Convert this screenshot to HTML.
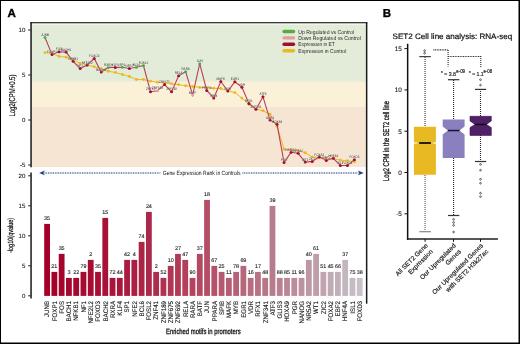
<!DOCTYPE html><html><head><meta charset="utf-8"><style>html,body{margin:0;padding:0;background:#fff;}svg{display:block;will-change:transform;}text{font-family:"Liberation Sans", sans-serif;text-rendering:geometricPrecision;}</style></head><body>
<svg width="520" height="344" viewBox="0 0 520 344">
<rect x="0" y="0" width="520" height="344" fill="#fff"/>
<rect x="31.0" y="22.7" width="335.2" height="144.3" fill="#f6e5d2"/>
<rect x="31.0" y="22.7" width="335.2" height="84.3" fill="#fbf0d8"/>
<rect x="31.0" y="22.7" width="335.2" height="58.8" fill="#e2ecd8"/>
<rect x="30.3" y="22.15" width="337" height="1.35" fill="#1a1a1a"/>
<rect x="31.8" y="23.5" width="334.1" height="1.4" fill="#f0f8e8"/>
<rect x="30.3" y="22.3" width="1.5" height="145" fill="#1a1a1a"/>
<rect x="365.9" y="22.3" width="1.5" height="281.4" fill="#1a1a1a"/>
<rect x="28.2" y="29.50" width="2.5" height="1" fill="#1a1a1a"/>
<text x="25.30" y="32.20" font-size="6.1" fill="#222" text-anchor="end" stroke="#222" stroke-width="0.12">10</text>
<rect x="28.2" y="74.50" width="2.5" height="1" fill="#1a1a1a"/>
<text x="25.30" y="77.20" font-size="6.1" fill="#222" text-anchor="end" stroke="#222" stroke-width="0.12">5</text>
<rect x="28.2" y="119.50" width="2.5" height="1" fill="#1a1a1a"/>
<text x="25.30" y="122.20" font-size="6.1" fill="#222" text-anchor="end" stroke="#222" stroke-width="0.12">0</text>
<rect x="28.2" y="164.50" width="2.5" height="1" fill="#1a1a1a"/>
<text x="25.30" y="167.20" font-size="6.1" fill="#222" text-anchor="end" stroke="#222" stroke-width="0.12">-5</text>
<text x="14.70" y="116.60" font-size="8.5" fill="#111" textLength="42.0" lengthAdjust="spacingAndGlyphs" transform="rotate(-90 14.70 116.60)" stroke="#111" stroke-width="0.22">Log2(CPM+0.5)</text>
<line x1="284.1" y1="31.50" x2="293.5" y2="31.50" stroke="#5aab3f" stroke-width="3.4" stroke-linecap="round"/>
<text x="298.30" y="33.50" font-size="5.7" fill="#2a2a2a" textLength="55.7" lengthAdjust="spacingAndGlyphs" >Up Regulated vs Control</text>
<line x1="284.1" y1="37.90" x2="293.5" y2="37.90" stroke="#e0a09a" stroke-width="3.4" stroke-linecap="round"/>
<text x="298.30" y="39.90" font-size="5.7" fill="#2a2a2a" textLength="62.5" lengthAdjust="spacingAndGlyphs" >Down Regulated vs Control</text>
<line x1="284.1" y1="44.30" x2="293.5" y2="44.30" stroke="#a50d2e" stroke-width="3.4" stroke-linecap="round"/>
<text x="298.30" y="46.30" font-size="5.7" fill="#2a2a2a" textLength="36.5" lengthAdjust="spacingAndGlyphs" >Expression in ET</text>
<line x1="284.1" y1="50.70" x2="293.5" y2="50.70" stroke="#ebb820" stroke-width="3.4" stroke-linecap="round"/>
<text x="298.30" y="52.70" font-size="5.7" fill="#2a2a2a" textLength="48.0" lengthAdjust="spacingAndGlyphs" >Expression in Control</text>
<polyline points="45.00,52.60 52.03,53.50 59.06,56.40 66.10,57.20 73.13,59.50 80.16,63.50 87.19,65.00 94.22,66.70 101.26,68.80 108.29,71.20 115.32,72.50 122.35,74.50 129.38,76.50 136.42,79.50 143.45,79.50 150.48,81.10 157.51,82.30 164.54,83.10 171.58,83.80 178.61,84.60 185.64,85.80 192.67,86.50 199.70,87.40 206.74,87.70 213.77,88.30 220.80,88.50 227.83,90.80 234.86,92.60 241.90,98.10 248.93,104.50 255.96,109.00 262.99,110.80 270.02,114.30 277.06,126.30 284.09,149.20 291.12,149.50 298.15,150.70 305.18,152.70 312.22,157.10 319.25,157.30 326.28,157.90 333.31,158.50 340.34,160.10 347.38,160.80 354.41,161.70" fill="none" stroke="#ebb820" stroke-width="1"/>
<circle cx="45.00" cy="52.60" r="1.45" fill="#ebb820"/>
<circle cx="52.03" cy="53.50" r="1.45" fill="#ebb820"/>
<circle cx="59.06" cy="56.40" r="1.45" fill="#ebb820"/>
<circle cx="66.10" cy="57.20" r="1.45" fill="#ebb820"/>
<circle cx="73.13" cy="59.50" r="1.45" fill="#ebb820"/>
<circle cx="80.16" cy="63.50" r="1.45" fill="#ebb820"/>
<circle cx="87.19" cy="65.00" r="1.45" fill="#ebb820"/>
<circle cx="94.22" cy="66.70" r="1.45" fill="#ebb820"/>
<circle cx="101.26" cy="68.80" r="1.45" fill="#ebb820"/>
<circle cx="108.29" cy="71.20" r="1.45" fill="#ebb820"/>
<circle cx="115.32" cy="72.50" r="1.45" fill="#ebb820"/>
<circle cx="122.35" cy="74.50" r="1.45" fill="#ebb820"/>
<circle cx="129.38" cy="76.50" r="1.45" fill="#ebb820"/>
<circle cx="136.42" cy="79.50" r="1.45" fill="#ebb820"/>
<circle cx="143.45" cy="79.50" r="1.45" fill="#ebb820"/>
<circle cx="150.48" cy="81.10" r="1.45" fill="#ebb820"/>
<circle cx="157.51" cy="82.30" r="1.45" fill="#ebb820"/>
<circle cx="164.54" cy="83.10" r="1.45" fill="#ebb820"/>
<circle cx="171.58" cy="83.80" r="1.45" fill="#ebb820"/>
<circle cx="178.61" cy="84.60" r="1.45" fill="#ebb820"/>
<circle cx="185.64" cy="85.80" r="1.45" fill="#ebb820"/>
<circle cx="192.67" cy="86.50" r="1.45" fill="#ebb820"/>
<circle cx="199.70" cy="87.40" r="1.45" fill="#ebb820"/>
<circle cx="206.74" cy="87.70" r="1.45" fill="#ebb820"/>
<circle cx="213.77" cy="88.30" r="1.45" fill="#ebb820"/>
<circle cx="220.80" cy="88.50" r="1.45" fill="#ebb820"/>
<circle cx="227.83" cy="90.80" r="1.45" fill="#ebb820"/>
<circle cx="234.86" cy="92.60" r="1.45" fill="#ebb820"/>
<circle cx="241.90" cy="98.10" r="1.45" fill="#ebb820"/>
<circle cx="248.93" cy="104.50" r="1.45" fill="#ebb820"/>
<circle cx="255.96" cy="109.00" r="1.45" fill="#ebb820"/>
<circle cx="262.99" cy="110.80" r="1.45" fill="#ebb820"/>
<circle cx="270.02" cy="114.30" r="1.45" fill="#ebb820"/>
<circle cx="277.06" cy="126.30" r="1.45" fill="#ebb820"/>
<circle cx="284.09" cy="149.20" r="1.45" fill="#ebb820"/>
<circle cx="291.12" cy="149.50" r="1.45" fill="#ebb820"/>
<circle cx="298.15" cy="150.70" r="1.45" fill="#ebb820"/>
<circle cx="305.18" cy="152.70" r="1.45" fill="#ebb820"/>
<circle cx="312.22" cy="157.10" r="1.45" fill="#ebb820"/>
<circle cx="319.25" cy="157.30" r="1.45" fill="#ebb820"/>
<circle cx="326.28" cy="157.90" r="1.45" fill="#ebb820"/>
<circle cx="333.31" cy="158.50" r="1.45" fill="#ebb820"/>
<circle cx="340.34" cy="160.10" r="1.45" fill="#ebb820"/>
<circle cx="347.38" cy="160.80" r="1.45" fill="#ebb820"/>
<circle cx="354.41" cy="161.70" r="1.45" fill="#ebb820"/>
<polyline points="45.00,37.50 52.03,54.60 59.06,51.70 66.10,52.10 73.13,61.30 80.16,68.50 87.19,65.00 94.22,58.50 101.26,72.10 108.29,67.40 115.32,67.40 122.35,67.20 129.38,68.50 136.42,67.20 143.45,65.50 150.48,91.70 157.51,90.80 164.54,84.60 171.58,91.80 178.61,75.80 185.64,71.70 192.67,95.10 199.70,63.70 206.74,90.50 213.77,98.00 220.80,81.50 227.83,91.10 234.86,81.80 241.90,87.20 248.93,103.50 255.96,109.30 262.99,96.80 270.02,120.00 277.06,124.30 284.09,162.50 291.12,152.20 298.15,153.30 305.18,162.10 312.22,161.40 319.25,157.00 326.28,160.40 333.31,158.30 340.34,165.50 347.38,165.50 354.41,159.80" fill="none" stroke="#bc3c5c" stroke-width="1.1"/>
<circle cx="45.00" cy="37.50" r="1.5" fill="#4fab3c"/>
<circle cx="52.03" cy="54.60" r="1.5" fill="#a50d2e"/>
<circle cx="59.06" cy="51.70" r="1.5" fill="#a50d2e"/>
<circle cx="66.10" cy="52.10" r="1.5" fill="#a50d2e"/>
<circle cx="73.13" cy="61.30" r="1.5" fill="#a50d2e"/>
<circle cx="80.16" cy="68.50" r="1.5" fill="#a50d2e"/>
<circle cx="87.19" cy="65.00" r="1.5" fill="#a50d2e"/>
<circle cx="94.22" cy="58.50" r="1.5" fill="#a50d2e"/>
<circle cx="101.26" cy="72.10" r="1.5" fill="#a50d2e"/>
<circle cx="108.29" cy="67.40" r="1.5" fill="#4fab3c"/>
<circle cx="115.32" cy="67.40" r="1.5" fill="#a50d2e"/>
<circle cx="122.35" cy="67.20" r="1.5" fill="#4fab3c"/>
<circle cx="129.38" cy="68.50" r="1.5" fill="#a50d2e"/>
<circle cx="136.42" cy="67.20" r="1.5" fill="#4fab3c"/>
<circle cx="143.45" cy="65.50" r="1.5" fill="#4fab3c"/>
<circle cx="150.48" cy="91.70" r="1.5" fill="#a50d2e"/>
<circle cx="157.51" cy="90.80" r="1.5" fill="#e6a0a2"/>
<circle cx="164.54" cy="84.60" r="1.5" fill="#a50d2e"/>
<circle cx="171.58" cy="91.80" r="1.5" fill="#a50d2e"/>
<circle cx="178.61" cy="75.80" r="1.5" fill="#a50d2e"/>
<circle cx="185.64" cy="71.70" r="1.5" fill="#4fab3c"/>
<circle cx="192.67" cy="95.10" r="1.5" fill="#e6a0a2"/>
<circle cx="199.70" cy="63.70" r="1.5" fill="#4fab3c"/>
<circle cx="206.74" cy="90.50" r="1.5" fill="#a50d2e"/>
<circle cx="213.77" cy="98.00" r="1.5" fill="#a50d2e"/>
<circle cx="220.80" cy="81.50" r="1.5" fill="#a50d2e"/>
<circle cx="227.83" cy="91.10" r="1.5" fill="#a50d2e"/>
<circle cx="234.86" cy="81.80" r="1.5" fill="#a50d2e"/>
<circle cx="241.90" cy="87.20" r="1.5" fill="#a50d2e"/>
<circle cx="248.93" cy="103.50" r="1.5" fill="#a50d2e"/>
<circle cx="255.96" cy="109.30" r="1.5" fill="#a50d2e"/>
<circle cx="262.99" cy="96.80" r="1.5" fill="#a50d2e"/>
<circle cx="270.02" cy="120.00" r="1.5" fill="#a50d2e"/>
<circle cx="277.06" cy="124.30" r="1.5" fill="#a50d2e"/>
<circle cx="284.09" cy="162.50" r="1.5" fill="#a50d2e"/>
<circle cx="291.12" cy="152.20" r="1.5" fill="#a50d2e"/>
<circle cx="298.15" cy="153.30" r="1.5" fill="#a50d2e"/>
<circle cx="305.18" cy="162.10" r="1.5" fill="#a50d2e"/>
<circle cx="312.22" cy="161.40" r="1.5" fill="#a50d2e"/>
<circle cx="319.25" cy="157.00" r="1.5" fill="#a50d2e"/>
<circle cx="326.28" cy="160.40" r="1.5" fill="#a50d2e"/>
<circle cx="333.31" cy="158.30" r="1.5" fill="#a50d2e"/>
<circle cx="340.34" cy="165.50" r="1.5" fill="#a50d2e"/>
<circle cx="347.38" cy="165.50" r="1.5" fill="#a50d2e"/>
<circle cx="354.41" cy="159.80" r="1.5" fill="#a50d2e"/>
<text x="45.00" y="36.00" font-size="3.5" fill="#222" text-anchor="middle" textLength="7.86" lengthAdjust="spacingAndGlyphs" stroke="#fff" stroke-opacity="0.4" stroke-width="0.6" paint-order="stroke">JUNB</text>
<text x="52.03" y="53.10" font-size="3.5" fill="#222" text-anchor="middle" textLength="9.87" lengthAdjust="spacingAndGlyphs" stroke="#fff" stroke-opacity="0.4" stroke-width="0.6" paint-order="stroke">FOXP1</text>
<text x="59.06" y="50.20" font-size="3.5" fill="#222" text-anchor="middle" textLength="6.19" lengthAdjust="spacingAndGlyphs" stroke="#fff" stroke-opacity="0.4" stroke-width="0.6" paint-order="stroke">FOS</text>
<text x="66.10" y="50.60" font-size="3.5" fill="#222" text-anchor="middle" textLength="10.04" lengthAdjust="spacingAndGlyphs" stroke="#fff" stroke-opacity="0.4" stroke-width="0.6" paint-order="stroke">BACH1</text>
<text x="73.13" y="59.80" font-size="3.5" fill="#222" text-anchor="middle" textLength="9.7" lengthAdjust="spacingAndGlyphs" stroke="#fff" stroke-opacity="0.4" stroke-width="0.6" paint-order="stroke">NFKB1</text>
<text x="80.16" y="67.00" font-size="3.5" fill="#222" text-anchor="middle" textLength="5.69" lengthAdjust="spacingAndGlyphs" stroke="#fff" stroke-opacity="0.4" stroke-width="0.6" paint-order="stroke">NF1</text>
<text x="87.19" y="63.50" font-size="3.5" fill="#222" text-anchor="middle" textLength="11.04" lengthAdjust="spacingAndGlyphs" stroke="#fff" stroke-opacity="0.4" stroke-width="0.6" paint-order="stroke">NFE2L2</text>
<text x="94.22" y="57.00" font-size="3.5" fill="#222" text-anchor="middle" textLength="10.2" lengthAdjust="spacingAndGlyphs" stroke="#fff" stroke-opacity="0.4" stroke-width="0.6" paint-order="stroke">FOXO3</text>
<text x="101.26" y="70.60" font-size="3.5" fill="#222" text-anchor="middle" textLength="10.04" lengthAdjust="spacingAndGlyphs" stroke="#fff" stroke-opacity="0.4" stroke-width="0.6" paint-order="stroke">BACH2</text>
<text x="108.29" y="65.90" font-size="3.5" fill="#222" text-anchor="middle" textLength="8.36" lengthAdjust="spacingAndGlyphs" stroke="#fff" stroke-opacity="0.4" stroke-width="0.6" paint-order="stroke">RXRA</text>
<text x="115.32" y="65.90" font-size="3.5" fill="#222" text-anchor="middle" textLength="7.19" lengthAdjust="spacingAndGlyphs" stroke="#fff" stroke-opacity="0.4" stroke-width="0.6" paint-order="stroke">KLF4</text>
<text x="122.35" y="65.70" font-size="3.5" fill="#222" text-anchor="middle" textLength="5.69" lengthAdjust="spacingAndGlyphs" stroke="#fff" stroke-opacity="0.4" stroke-width="0.6" paint-order="stroke">SP1</text>
<text x="129.38" y="67.00" font-size="3.5" fill="#222" text-anchor="middle" textLength="7.69" lengthAdjust="spacingAndGlyphs" stroke="#fff" stroke-opacity="0.4" stroke-width="0.6" paint-order="stroke">NFE2</text>
<text x="136.42" y="65.70" font-size="3.5" fill="#222" text-anchor="middle" textLength="7.53" lengthAdjust="spacingAndGlyphs" stroke="#fff" stroke-opacity="0.4" stroke-width="0.6" paint-order="stroke">BCL6</text>
<text x="143.45" y="64.00" font-size="3.5" fill="#222" text-anchor="middle" textLength="9.54" lengthAdjust="spacingAndGlyphs" stroke="#fff" stroke-opacity="0.4" stroke-width="0.6" paint-order="stroke">FOSL2</text>
<text x="150.48" y="90.20" font-size="3.5" fill="#222" text-anchor="middle" textLength="9.2" lengthAdjust="spacingAndGlyphs" stroke="#fff" stroke-opacity="0.4" stroke-width="0.6" paint-order="stroke">ZNF41</text>
<text x="157.51" y="89.30" font-size="3.5" fill="#222" text-anchor="middle" textLength="10.87" lengthAdjust="spacingAndGlyphs" stroke="#fff" stroke-opacity="0.4" stroke-width="0.6" paint-order="stroke">ZNF189</text>
<text x="164.54" y="83.10" font-size="3.5" fill="#222" text-anchor="middle" textLength="10.87" lengthAdjust="spacingAndGlyphs" stroke="#fff" stroke-opacity="0.4" stroke-width="0.6" paint-order="stroke">ZNF675</text>
<text x="171.58" y="90.30" font-size="3.5" fill="#222" text-anchor="middle" textLength="10.87" lengthAdjust="spacingAndGlyphs" stroke="#fff" stroke-opacity="0.4" stroke-width="0.6" paint-order="stroke">ZNF692</text>
<text x="178.61" y="74.30" font-size="3.5" fill="#222" text-anchor="middle" textLength="7.86" lengthAdjust="spacingAndGlyphs" stroke="#fff" stroke-opacity="0.4" stroke-width="0.6" paint-order="stroke">RELA</text>
<text x="185.64" y="70.20" font-size="3.5" fill="#222" text-anchor="middle" textLength="8.36" lengthAdjust="spacingAndGlyphs" stroke="#fff" stroke-opacity="0.4" stroke-width="0.6" paint-order="stroke">RARA</text>
<text x="192.67" y="93.60" font-size="3.5" fill="#222" text-anchor="middle" textLength="7.47" lengthAdjust="spacingAndGlyphs" stroke="#fff" stroke-opacity="0.4" stroke-width="0.6" paint-order="stroke">BATF</text>
<text x="199.70" y="62.20" font-size="3.5" fill="#222" text-anchor="middle" textLength="5.85" lengthAdjust="spacingAndGlyphs" stroke="#fff" stroke-opacity="0.4" stroke-width="0.6" paint-order="stroke">JUN</text>
<text x="206.74" y="89.00" font-size="3.5" fill="#222" text-anchor="middle" textLength="9.98" lengthAdjust="spacingAndGlyphs" stroke="#fff" stroke-opacity="0.4" stroke-width="0.6" paint-order="stroke">PPARA</text>
<text x="213.77" y="96.50" font-size="3.5" fill="#222" text-anchor="middle" textLength="6.86" lengthAdjust="spacingAndGlyphs" stroke="#fff" stroke-opacity="0.4" stroke-width="0.6" paint-order="stroke">SPIB</text>
<text x="220.80" y="80.00" font-size="3.5" fill="#222" text-anchor="middle" textLength="8.36" lengthAdjust="spacingAndGlyphs" stroke="#fff" stroke-opacity="0.4" stroke-width="0.6" paint-order="stroke">MAFK</text>
<text x="227.83" y="89.60" font-size="3.5" fill="#222" text-anchor="middle" textLength="6.52" lengthAdjust="spacingAndGlyphs" stroke="#fff" stroke-opacity="0.4" stroke-width="0.6" paint-order="stroke">MYB</text>
<text x="234.86" y="80.30" font-size="3.5" fill="#222" text-anchor="middle" textLength="8.2" lengthAdjust="spacingAndGlyphs" stroke="#fff" stroke-opacity="0.4" stroke-width="0.6" paint-order="stroke">EGR1</text>
<text x="241.90" y="85.70" font-size="3.5" fill="#222" text-anchor="middle" textLength="6.36" lengthAdjust="spacingAndGlyphs" stroke="#fff" stroke-opacity="0.4" stroke-width="0.6" paint-order="stroke">VDR</text>
<text x="248.93" y="102.00" font-size="3.5" fill="#222" text-anchor="middle" textLength="7.69" lengthAdjust="spacingAndGlyphs" stroke="#fff" stroke-opacity="0.4" stroke-width="0.6" paint-order="stroke">RFX1</text>
<text x="255.96" y="107.80" font-size="3.5" fill="#222" text-anchor="middle" textLength="10.87" lengthAdjust="spacingAndGlyphs" stroke="#fff" stroke-opacity="0.4" stroke-width="0.6" paint-order="stroke">ZNF341</text>
<text x="262.99" y="95.30" font-size="3.5" fill="#222" text-anchor="middle" textLength="7.14" lengthAdjust="spacingAndGlyphs" stroke="#fff" stroke-opacity="0.4" stroke-width="0.6" paint-order="stroke">ATF3</text>
<text x="270.02" y="118.50" font-size="3.5" fill="#222" text-anchor="middle" textLength="8.53" lengthAdjust="spacingAndGlyphs" stroke="#fff" stroke-opacity="0.4" stroke-width="0.6" paint-order="stroke">GLIS3</text>
<text x="277.06" y="122.80" font-size="3.5" fill="#222" text-anchor="middle" textLength="10.2" lengthAdjust="spacingAndGlyphs" stroke="#fff" stroke-opacity="0.4" stroke-width="0.6" paint-order="stroke">HOXA9</text>
<text x="284.09" y="161.00" font-size="3.5" fill="#222" text-anchor="middle" textLength="6.52" lengthAdjust="spacingAndGlyphs" stroke="#fff" stroke-opacity="0.4" stroke-width="0.6" paint-order="stroke">PGR</text>
<text x="291.12" y="150.70" font-size="3.5" fill="#222" text-anchor="middle" textLength="11.04" lengthAdjust="spacingAndGlyphs" stroke="#fff" stroke-opacity="0.4" stroke-width="0.6" paint-order="stroke">NANOG</text>
<text x="298.15" y="151.80" font-size="3.5" fill="#222" text-anchor="middle" textLength="9.7" lengthAdjust="spacingAndGlyphs" stroke="#fff" stroke-opacity="0.4" stroke-width="0.6" paint-order="stroke">NR5A2</text>
<text x="305.18" y="160.60" font-size="3.5" fill="#222" text-anchor="middle" textLength="6.35" lengthAdjust="spacingAndGlyphs" stroke="#fff" stroke-opacity="0.4" stroke-width="0.6" paint-order="stroke">WT1</text>
<text x="312.22" y="159.90" font-size="3.5" fill="#222" text-anchor="middle" textLength="6.52" lengthAdjust="spacingAndGlyphs" stroke="#fff" stroke-opacity="0.4" stroke-width="0.6" paint-order="stroke">ZIC2</text>
<text x="319.25" y="155.50" font-size="3.5" fill="#222" text-anchor="middle" textLength="9.87" lengthAdjust="spacingAndGlyphs" stroke="#fff" stroke-opacity="0.4" stroke-width="0.6" paint-order="stroke">FOXA2</text>
<text x="326.28" y="158.90" font-size="3.5" fill="#222" text-anchor="middle" textLength="7.53" lengthAdjust="spacingAndGlyphs" stroke="#fff" stroke-opacity="0.4" stroke-width="0.6" paint-order="stroke">EBF2</text>
<text x="333.31" y="156.80" font-size="3.5" fill="#222" text-anchor="middle" textLength="9.87" lengthAdjust="spacingAndGlyphs" stroke="#fff" stroke-opacity="0.4" stroke-width="0.6" paint-order="stroke">HNF4A</text>
<text x="340.34" y="164.00" font-size="3.5" fill="#222" text-anchor="middle" textLength="6.19" lengthAdjust="spacingAndGlyphs" stroke="#fff" stroke-opacity="0.4" stroke-width="0.6" paint-order="stroke">ISL1</text>
<text x="347.38" y="164.00" font-size="3.5" fill="#222" text-anchor="middle" textLength="10.2" lengthAdjust="spacingAndGlyphs" stroke="#fff" stroke-opacity="0.4" stroke-width="0.6" paint-order="stroke">FOXO4</text>
<text x="354.41" y="158.30" font-size="3.5" fill="#222" text-anchor="middle" textLength="10.04" lengthAdjust="spacingAndGlyphs" stroke="#fff" stroke-opacity="0.4" stroke-width="0.6" paint-order="stroke">FOXD3</text>
<line x1="44.6" y1="173.0" x2="160.5" y2="173.0" stroke="#4d6296" stroke-width="1.5" stroke-dasharray="0.9,0.8"/>
<line x1="242.5" y1="173.0" x2="358.5" y2="173.0" stroke="#4d6296" stroke-width="1.5" stroke-dasharray="0.9,0.8"/>
<path d="M39.1,172.9 L44.9,170.6 L43.4,172.9 L44.9,175.3 Z" fill="#1d3c80"/>
<path d="M363.7,172.9 L357.9,170.6 L359.4,172.9 L357.9,175.3 Z" fill="#1d3c80"/>
<text x="162.70" y="175.00" font-size="6.1" fill="#111" textLength="77.8" lengthAdjust="spacingAndGlyphs" >Gene Expression Rank in Controls</text>
<rect x="30.3" y="172.5" width="1.5" height="126" fill="#1a1a1a"/>
<rect x="28.2" y="175.30" width="2.5" height="1" fill="#1a1a1a"/>
<text x="25.30" y="178.00" font-size="6.1" fill="#222" text-anchor="end" stroke="#222" stroke-width="0.12">20</text>
<rect x="28.2" y="205.30" width="2.5" height="1" fill="#1a1a1a"/>
<text x="25.30" y="208.00" font-size="6.1" fill="#222" text-anchor="end" stroke="#222" stroke-width="0.12">15</text>
<rect x="28.2" y="235.30" width="2.5" height="1" fill="#1a1a1a"/>
<text x="25.30" y="238.00" font-size="6.1" fill="#222" text-anchor="end" stroke="#222" stroke-width="0.12">10</text>
<rect x="28.2" y="265.30" width="2.5" height="1" fill="#1a1a1a"/>
<text x="25.30" y="268.00" font-size="6.1" fill="#222" text-anchor="end" stroke="#222" stroke-width="0.12">5</text>
<rect x="28.2" y="295.30" width="2.5" height="1" fill="#1a1a1a"/>
<text x="25.30" y="298.00" font-size="6.1" fill="#222" text-anchor="end" stroke="#222" stroke-width="0.12">0</text>
<text x="13.20" y="253.00" font-size="7.6" fill="#111" textLength="35.2" lengthAdjust="spacingAndGlyphs" transform="rotate(-90 13.20 253.00)" stroke="#111" stroke-width="0.22">-log10(qvalue)</text>
<rect x="44.20" y="223.90" width="5.8" height="72.00" fill="#a50026"/>
<text x="47.10" y="220.00" font-size="5.4" fill="#222" text-anchor="middle" stroke="#222" stroke-width="0.12">35</text>
<text x="49.40" y="301.00" font-size="6.6" fill="#1a1a1a" text-anchor="end" textLength="16.06" lengthAdjust="spacingAndGlyphs" transform="rotate(-90 49.40 301.00)" stroke="#1a1a1a" stroke-width="0.12">JUNB</text>
<rect x="51.47" y="271.90" width="5.8" height="24.00" fill="#a50228"/>
<text x="54.37" y="268.00" font-size="5.4" fill="#222" text-anchor="middle" stroke="#222" stroke-width="0.12">21</text>
<text x="56.67" y="301.00" font-size="6.6" fill="#1a1a1a" text-anchor="end" textLength="20.16" lengthAdjust="spacingAndGlyphs" transform="rotate(-90 56.67 301.00)" stroke="#1a1a1a" stroke-width="0.12">FOXP1</text>
<rect x="58.74" y="253.90" width="5.8" height="42.00" fill="#a6042a"/>
<text x="61.64" y="250.00" font-size="5.4" fill="#222" text-anchor="middle" stroke="#222" stroke-width="0.12">35</text>
<text x="63.94" y="301.00" font-size="6.6" fill="#1a1a1a" text-anchor="end" textLength="12.64" lengthAdjust="spacingAndGlyphs" transform="rotate(-90 63.94 301.00)" stroke="#1a1a1a" stroke-width="0.12">FOS</text>
<rect x="66.01" y="277.90" width="5.8" height="18.00" fill="#a6072d"/>
<text x="68.91" y="274.00" font-size="5.4" fill="#222" text-anchor="middle" stroke="#222" stroke-width="0.12">3</text>
<text x="71.21" y="301.00" font-size="6.6" fill="#1a1a1a" text-anchor="end" textLength="20.51" lengthAdjust="spacingAndGlyphs" transform="rotate(-90 71.21 301.00)" stroke="#1a1a1a" stroke-width="0.12">BACH1</text>
<rect x="73.28" y="277.90" width="5.8" height="18.00" fill="#a6092f"/>
<text x="76.18" y="274.00" font-size="5.4" fill="#222" text-anchor="middle" stroke="#222" stroke-width="0.12">22</text>
<text x="78.48" y="301.00" font-size="6.6" fill="#1a1a1a" text-anchor="end" textLength="19.82" lengthAdjust="spacingAndGlyphs" transform="rotate(-90 78.48 301.00)" stroke="#1a1a1a" stroke-width="0.12">NFKB1</text>
<rect x="80.55" y="271.90" width="5.8" height="24.00" fill="#a60b31"/>
<text x="83.45" y="268.00" font-size="5.4" fill="#222" text-anchor="middle" stroke="#222" stroke-width="0.12">79</text>
<text x="85.75" y="301.00" font-size="6.6" fill="#1a1a1a" text-anchor="end" textLength="11.62" lengthAdjust="spacingAndGlyphs" transform="rotate(-90 85.75 301.00)" stroke="#1a1a1a" stroke-width="0.12">NF1</text>
<rect x="87.82" y="259.90" width="5.8" height="36.00" fill="#a70d33"/>
<text x="90.72" y="256.00" font-size="5.4" fill="#222" text-anchor="middle" stroke="#222" stroke-width="0.12">2</text>
<text x="93.02" y="301.00" font-size="6.6" fill="#1a1a1a" text-anchor="end" textLength="22.56" lengthAdjust="spacingAndGlyphs" transform="rotate(-90 93.02 301.00)" stroke="#1a1a1a" stroke-width="0.12">NFE2L2</text>
<rect x="95.09" y="271.90" width="5.8" height="24.00" fill="#a70f35"/>
<text x="97.99" y="268.00" font-size="5.4" fill="#222" text-anchor="middle" stroke="#222" stroke-width="0.12">35</text>
<text x="100.29" y="301.00" font-size="6.6" fill="#1a1a1a" text-anchor="end" textLength="20.85" lengthAdjust="spacingAndGlyphs" transform="rotate(-90 100.29 301.00)" stroke="#1a1a1a" stroke-width="0.12">FOXO3</text>
<rect x="102.36" y="217.90" width="5.8" height="78.00" fill="#a71238"/>
<text x="105.26" y="214.00" font-size="5.4" fill="#222" text-anchor="middle" stroke="#222" stroke-width="0.12">15</text>
<text x="107.56" y="301.00" font-size="6.6" fill="#1a1a1a" text-anchor="end" textLength="20.51" lengthAdjust="spacingAndGlyphs" transform="rotate(-90 107.56 301.00)" stroke="#1a1a1a" stroke-width="0.12">BACH2</text>
<rect x="109.63" y="277.90" width="5.8" height="18.00" fill="#a8143a"/>
<text x="112.53" y="274.00" font-size="5.4" fill="#222" text-anchor="middle" stroke="#222" stroke-width="0.12">72</text>
<text x="114.83" y="301.00" font-size="6.6" fill="#1a1a1a" text-anchor="end" textLength="17.09" lengthAdjust="spacingAndGlyphs" transform="rotate(-90 114.83 301.00)" stroke="#1a1a1a" stroke-width="0.12">RXRA</text>
<rect x="116.90" y="277.90" width="5.8" height="18.00" fill="#a8163c"/>
<text x="119.80" y="274.00" font-size="5.4" fill="#222" text-anchor="middle" stroke="#222" stroke-width="0.12">44</text>
<text x="122.10" y="301.00" font-size="6.6" fill="#1a1a1a" text-anchor="end" textLength="14.7" lengthAdjust="spacingAndGlyphs" transform="rotate(-90 122.10 301.00)" stroke="#1a1a1a" stroke-width="0.12">KLF4</text>
<rect x="124.17" y="259.90" width="5.8" height="36.00" fill="#a91b3f"/>
<text x="127.07" y="256.00" font-size="5.4" fill="#222" text-anchor="middle" stroke="#222" stroke-width="0.12">42</text>
<text x="129.37" y="301.00" font-size="6.6" fill="#1a1a1a" text-anchor="end" textLength="11.62" lengthAdjust="spacingAndGlyphs" transform="rotate(-90 129.37 301.00)" stroke="#1a1a1a" stroke-width="0.12">SP1</text>
<rect x="131.44" y="259.90" width="5.8" height="36.00" fill="#aa1f43"/>
<text x="134.34" y="256.00" font-size="5.4" fill="#222" text-anchor="middle" stroke="#222" stroke-width="0.12">4</text>
<text x="136.64" y="301.00" font-size="6.6" fill="#1a1a1a" text-anchor="end" textLength="15.72" lengthAdjust="spacingAndGlyphs" transform="rotate(-90 136.64 301.00)" stroke="#1a1a1a" stroke-width="0.12">NFE2</text>
<rect x="138.71" y="241.90" width="5.8" height="54.00" fill="#ab2446"/>
<text x="141.61" y="238.00" font-size="5.4" fill="#222" text-anchor="middle" stroke="#222" stroke-width="0.12">74</text>
<text x="143.91" y="301.00" font-size="6.6" fill="#1a1a1a" text-anchor="end" textLength="15.38" lengthAdjust="spacingAndGlyphs" transform="rotate(-90 143.91 301.00)" stroke="#1a1a1a" stroke-width="0.12">BCL6</text>
<rect x="145.98" y="211.90" width="5.8" height="84.00" fill="#ac284a"/>
<text x="148.88" y="208.00" font-size="5.4" fill="#222" text-anchor="middle" stroke="#222" stroke-width="0.12">24</text>
<text x="151.18" y="301.00" font-size="6.6" fill="#1a1a1a" text-anchor="end" textLength="19.48" lengthAdjust="spacingAndGlyphs" transform="rotate(-90 151.18 301.00)" stroke="#1a1a1a" stroke-width="0.12">FOSL2</text>
<rect x="153.25" y="271.90" width="5.8" height="24.00" fill="#ad2d4d"/>
<text x="156.15" y="268.00" font-size="5.4" fill="#222" text-anchor="middle" stroke="#222" stroke-width="0.12">2</text>
<text x="158.45" y="301.00" font-size="6.6" fill="#1a1a1a" text-anchor="end" textLength="18.79" lengthAdjust="spacingAndGlyphs" transform="rotate(-90 158.45 301.00)" stroke="#1a1a1a" stroke-width="0.12">ZNF41</text>
<rect x="160.52" y="277.90" width="5.8" height="18.00" fill="#af3151"/>
<text x="163.42" y="274.00" font-size="5.4" fill="#222" text-anchor="middle" stroke="#222" stroke-width="0.12">52</text>
<text x="165.72" y="301.00" font-size="6.6" fill="#1a1a1a" text-anchor="end" textLength="22.21" lengthAdjust="spacingAndGlyphs" transform="rotate(-90 165.72 301.00)" stroke="#1a1a1a" stroke-width="0.12">ZNF189</text>
<rect x="167.79" y="265.90" width="5.8" height="30.00" fill="#b03654"/>
<text x="170.69" y="262.00" font-size="5.4" fill="#222" text-anchor="middle" stroke="#222" stroke-width="0.12">10</text>
<text x="172.99" y="301.00" font-size="6.6" fill="#1a1a1a" text-anchor="end" textLength="22.21" lengthAdjust="spacingAndGlyphs" transform="rotate(-90 172.99 301.00)" stroke="#1a1a1a" stroke-width="0.12">ZNF675</text>
<rect x="175.06" y="253.90" width="5.8" height="42.00" fill="#b13a58"/>
<text x="177.96" y="250.00" font-size="5.4" fill="#222" text-anchor="middle" stroke="#222" stroke-width="0.12">27</text>
<text x="180.26" y="301.00" font-size="6.6" fill="#1a1a1a" text-anchor="end" textLength="22.21" lengthAdjust="spacingAndGlyphs" transform="rotate(-90 180.26 301.00)" stroke="#1a1a1a" stroke-width="0.12">ZNF692</text>
<rect x="182.33" y="259.90" width="5.8" height="36.00" fill="#b23f5b"/>
<text x="185.23" y="256.00" font-size="5.4" fill="#222" text-anchor="middle" stroke="#222" stroke-width="0.12">47</text>
<text x="187.53" y="301.00" font-size="6.6" fill="#1a1a1a" text-anchor="end" textLength="16.07" lengthAdjust="spacingAndGlyphs" transform="rotate(-90 187.53 301.00)" stroke="#1a1a1a" stroke-width="0.12">RELA</text>
<rect x="189.60" y="277.90" width="5.8" height="18.00" fill="#b3435f"/>
<text x="192.50" y="274.00" font-size="5.4" fill="#222" text-anchor="middle" stroke="#222" stroke-width="0.12">90</text>
<text x="194.80" y="301.00" font-size="6.6" fill="#1a1a1a" text-anchor="end" textLength="17.09" lengthAdjust="spacingAndGlyphs" transform="rotate(-90 194.80 301.00)" stroke="#1a1a1a" stroke-width="0.12">RARA</text>
<rect x="196.87" y="253.90" width="5.8" height="42.00" fill="#b44862"/>
<text x="199.77" y="250.00" font-size="5.4" fill="#222" text-anchor="middle" stroke="#222" stroke-width="0.12">37</text>
<text x="202.07" y="301.00" font-size="6.6" fill="#1a1a1a" text-anchor="end" textLength="15.26" lengthAdjust="spacingAndGlyphs" transform="rotate(-90 202.07 301.00)" stroke="#1a1a1a" stroke-width="0.12">BATF</text>
<rect x="204.14" y="199.90" width="5.8" height="96.00" fill="#b44d66"/>
<text x="207.04" y="196.00" font-size="5.4" fill="#222" text-anchor="middle" stroke="#222" stroke-width="0.12">18</text>
<text x="209.34" y="301.00" font-size="6.6" fill="#1a1a1a" text-anchor="end" textLength="11.96" lengthAdjust="spacingAndGlyphs" transform="rotate(-90 209.34 301.00)" stroke="#1a1a1a" stroke-width="0.12">JUN</text>
<rect x="211.41" y="265.90" width="5.8" height="30.00" fill="#b5526a"/>
<text x="214.31" y="262.00" font-size="5.4" fill="#222" text-anchor="middle" stroke="#222" stroke-width="0.12">67</text>
<text x="216.61" y="301.00" font-size="6.6" fill="#1a1a1a" text-anchor="end" textLength="20.39" lengthAdjust="spacingAndGlyphs" transform="rotate(-90 216.61 301.00)" stroke="#1a1a1a" stroke-width="0.12">PPARA</text>
<rect x="218.68" y="271.90" width="5.8" height="24.00" fill="#b5576f"/>
<text x="221.58" y="268.00" font-size="5.4" fill="#222" text-anchor="middle" stroke="#222" stroke-width="0.12">25</text>
<text x="223.88" y="301.00" font-size="6.6" fill="#1a1a1a" text-anchor="end" textLength="14.02" lengthAdjust="spacingAndGlyphs" transform="rotate(-90 223.88 301.00)" stroke="#1a1a1a" stroke-width="0.12">SPIB</text>
<rect x="225.95" y="277.90" width="5.8" height="18.00" fill="#b55c73"/>
<text x="228.85" y="274.00" font-size="5.4" fill="#222" text-anchor="middle" stroke="#222" stroke-width="0.12">11</text>
<text x="231.15" y="301.00" font-size="6.6" fill="#1a1a1a" text-anchor="end" textLength="17.08" lengthAdjust="spacingAndGlyphs" transform="rotate(-90 231.15 301.00)" stroke="#1a1a1a" stroke-width="0.12">MAFK</text>
<rect x="233.22" y="271.90" width="5.8" height="24.00" fill="#b66177"/>
<text x="236.12" y="268.00" font-size="5.4" fill="#222" text-anchor="middle" stroke="#222" stroke-width="0.12">78</text>
<text x="238.42" y="301.00" font-size="6.6" fill="#1a1a1a" text-anchor="end" textLength="13.33" lengthAdjust="spacingAndGlyphs" transform="rotate(-90 238.42 301.00)" stroke="#1a1a1a" stroke-width="0.12">MYB</text>
<rect x="240.49" y="265.90" width="5.8" height="30.00" fill="#b6677b"/>
<text x="243.39" y="262.00" font-size="5.4" fill="#222" text-anchor="middle" stroke="#222" stroke-width="0.12">69</text>
<text x="245.69" y="301.00" font-size="6.6" fill="#1a1a1a" text-anchor="end" textLength="16.75" lengthAdjust="spacingAndGlyphs" transform="rotate(-90 245.69 301.00)" stroke="#1a1a1a" stroke-width="0.12">EGR1</text>
<rect x="247.76" y="277.90" width="5.8" height="18.00" fill="#b76c7f"/>
<text x="250.66" y="274.00" font-size="5.4" fill="#222" text-anchor="middle" stroke="#222" stroke-width="0.12">16</text>
<text x="252.96" y="301.00" font-size="6.6" fill="#1a1a1a" text-anchor="end" textLength="12.99" lengthAdjust="spacingAndGlyphs" transform="rotate(-90 252.96 301.00)" stroke="#1a1a1a" stroke-width="0.12">VDR</text>
<rect x="255.03" y="271.90" width="5.8" height="24.00" fill="#b77183"/>
<text x="257.93" y="268.00" font-size="5.4" fill="#222" text-anchor="middle" stroke="#222" stroke-width="0.12">17</text>
<text x="260.23" y="301.00" font-size="6.6" fill="#1a1a1a" text-anchor="end" textLength="15.72" lengthAdjust="spacingAndGlyphs" transform="rotate(-90 260.23 301.00)" stroke="#1a1a1a" stroke-width="0.12">RFX1</text>
<rect x="262.30" y="277.90" width="5.8" height="18.00" fill="#b77688"/>
<text x="265.20" y="274.00" font-size="5.4" fill="#222" text-anchor="middle" stroke="#222" stroke-width="0.12">48</text>
<text x="267.50" y="301.00" font-size="6.6" fill="#1a1a1a" text-anchor="end" textLength="22.21" lengthAdjust="spacingAndGlyphs" transform="rotate(-90 267.50 301.00)" stroke="#1a1a1a" stroke-width="0.12">ZNF341</text>
<rect x="269.57" y="205.90" width="5.8" height="90.00" fill="#b87b8c"/>
<text x="272.47" y="202.00" font-size="5.4" fill="#222" text-anchor="middle" stroke="#222" stroke-width="0.12">39</text>
<text x="274.77" y="301.00" font-size="6.6" fill="#1a1a1a" text-anchor="end" textLength="14.58" lengthAdjust="spacingAndGlyphs" transform="rotate(-90 274.77 301.00)" stroke="#1a1a1a" stroke-width="0.12">ATF3</text>
<rect x="276.84" y="277.90" width="5.8" height="18.00" fill="#b88090"/>
<text x="279.74" y="274.00" font-size="5.4" fill="#222" text-anchor="middle" stroke="#222" stroke-width="0.12">88</text>
<text x="282.04" y="301.00" font-size="6.6" fill="#1a1a1a" text-anchor="end" textLength="17.43" lengthAdjust="spacingAndGlyphs" transform="rotate(-90 282.04 301.00)" stroke="#1a1a1a" stroke-width="0.12">GLIS3</text>
<rect x="284.11" y="277.90" width="5.8" height="18.00" fill="#b98695"/>
<text x="287.01" y="274.00" font-size="5.4" fill="#222" text-anchor="middle" stroke="#222" stroke-width="0.12">85</text>
<text x="289.31" y="301.00" font-size="6.6" fill="#1a1a1a" text-anchor="end" textLength="20.85" lengthAdjust="spacingAndGlyphs" transform="rotate(-90 289.31 301.00)" stroke="#1a1a1a" stroke-width="0.12">HOXA9</text>
<rect x="291.38" y="277.90" width="5.8" height="18.00" fill="#bb8c9a"/>
<text x="294.28" y="274.00" font-size="5.4" fill="#222" text-anchor="middle" stroke="#222" stroke-width="0.12">11</text>
<text x="296.58" y="301.00" font-size="6.6" fill="#1a1a1a" text-anchor="end" textLength="13.33" lengthAdjust="spacingAndGlyphs" transform="rotate(-90 296.58 301.00)" stroke="#1a1a1a" stroke-width="0.12">PGR</text>
<rect x="298.65" y="277.90" width="5.8" height="18.00" fill="#bc929f"/>
<text x="301.55" y="274.00" font-size="5.4" fill="#222" text-anchor="middle" stroke="#222" stroke-width="0.12">96</text>
<text x="303.85" y="301.00" font-size="6.6" fill="#1a1a1a" text-anchor="end" textLength="22.55" lengthAdjust="spacingAndGlyphs" transform="rotate(-90 303.85 301.00)" stroke="#1a1a1a" stroke-width="0.12">NANOG</text>
<rect x="305.92" y="259.90" width="5.8" height="36.00" fill="#bd98a4"/>
<text x="308.82" y="256.00" font-size="5.4" fill="#222" text-anchor="middle" stroke="#222" stroke-width="0.12">40</text>
<text x="311.12" y="301.00" font-size="6.6" fill="#1a1a1a" text-anchor="end" textLength="19.83" lengthAdjust="spacingAndGlyphs" transform="rotate(-90 311.12 301.00)" stroke="#1a1a1a" stroke-width="0.12">NR5A2</text>
<rect x="313.19" y="253.90" width="5.8" height="42.00" fill="#be9ea9"/>
<text x="316.09" y="250.00" font-size="5.4" fill="#222" text-anchor="middle" stroke="#222" stroke-width="0.12">61</text>
<text x="318.39" y="301.00" font-size="6.6" fill="#1a1a1a" text-anchor="end" textLength="12.98" lengthAdjust="spacingAndGlyphs" transform="rotate(-90 318.39 301.00)" stroke="#1a1a1a" stroke-width="0.12">WT1</text>
<rect x="320.46" y="271.90" width="5.8" height="24.00" fill="#c0a4af"/>
<text x="323.36" y="268.00" font-size="5.4" fill="#222" text-anchor="middle" stroke="#222" stroke-width="0.12">51</text>
<text x="325.66" y="301.00" font-size="6.6" fill="#1a1a1a" text-anchor="end" textLength="13.33" lengthAdjust="spacingAndGlyphs" transform="rotate(-90 325.66 301.00)" stroke="#1a1a1a" stroke-width="0.12">ZIC2</text>
<rect x="327.73" y="271.90" width="5.8" height="24.00" fill="#c1aab4"/>
<text x="330.63" y="268.00" font-size="5.4" fill="#222" text-anchor="middle" stroke="#222" stroke-width="0.12">45</text>
<text x="332.93" y="301.00" font-size="6.6" fill="#1a1a1a" text-anchor="end" textLength="20.16" lengthAdjust="spacingAndGlyphs" transform="rotate(-90 332.93 301.00)" stroke="#1a1a1a" stroke-width="0.12">FOXA2</text>
<rect x="335.00" y="271.90" width="5.8" height="24.00" fill="#c2b0b9"/>
<text x="337.90" y="268.00" font-size="5.4" fill="#222" text-anchor="middle" stroke="#222" stroke-width="0.12">66</text>
<text x="340.20" y="301.00" font-size="6.6" fill="#1a1a1a" text-anchor="end" textLength="15.38" lengthAdjust="spacingAndGlyphs" transform="rotate(-90 340.20 301.00)" stroke="#1a1a1a" stroke-width="0.12">EBF2</text>
<rect x="342.27" y="259.90" width="5.8" height="36.00" fill="#c3b6be"/>
<text x="345.17" y="256.00" font-size="5.4" fill="#222" text-anchor="middle" stroke="#222" stroke-width="0.12">37</text>
<text x="347.47" y="301.00" font-size="6.6" fill="#1a1a1a" text-anchor="end" textLength="20.16" lengthAdjust="spacingAndGlyphs" transform="rotate(-90 347.47 301.00)" stroke="#1a1a1a" stroke-width="0.12">HNF4A</text>
<rect x="349.54" y="277.90" width="5.8" height="18.00" fill="#c5bcc3"/>
<text x="352.44" y="274.00" font-size="5.4" fill="#222" text-anchor="middle" stroke="#222" stroke-width="0.12">75</text>
<text x="354.74" y="301.00" font-size="6.6" fill="#1a1a1a" text-anchor="end" textLength="12.65" lengthAdjust="spacingAndGlyphs" transform="rotate(-90 354.74 301.00)" stroke="#1a1a1a" stroke-width="0.12">ISL1</text>
<rect x="356.81" y="277.90" width="5.8" height="18.00" fill="#c6c2c8"/>
<text x="359.71" y="274.00" font-size="5.4" fill="#222" text-anchor="middle" stroke="#222" stroke-width="0.12">38</text>
<text x="362.01" y="301.00" font-size="6.6" fill="#1a1a1a" text-anchor="end" textLength="20.5" lengthAdjust="spacingAndGlyphs" transform="rotate(-90 362.01 301.00)" stroke="#1a1a1a" stroke-width="0.12">FOXD3</text>
<text x="166.00" y="333.90" font-size="7.8" fill="#111" textLength="74.6" lengthAdjust="spacingAndGlyphs" stroke="#111" stroke-width="0.3">Enriched motifs in promoters</text>
<text x="7.40" y="16.70" font-size="11.6" fill="#000" font-weight="bold" stroke="#000" stroke-width="0.35">A</text>
<text x="382.70" y="16.60" font-size="11.5" fill="#000" font-weight="bold" stroke="#000" stroke-width="0.35">B</text>
<text x="392.50" y="38.60" font-size="7.9" fill="#111" textLength="119.7" lengthAdjust="spacingAndGlyphs" stroke="#111" stroke-width="0.2">SET2 Cell line analysis: RNA-seq</text>
<rect x="406.9" y="43.8" width="1.5" height="195.9" fill="#111"/>
<rect x="406.9" y="238.3" width="91" height="1.4" fill="#111"/>
<rect x="404.4" y="48.10" width="2.6" height="1" fill="#111"/>
<text x="401.90" y="50.90" font-size="6.4" fill="#222" text-anchor="end" stroke="#222" stroke-width="0.12">15</text>
<rect x="404.4" y="89.40" width="2.6" height="1" fill="#111"/>
<text x="401.90" y="92.20" font-size="6.4" fill="#222" text-anchor="end" stroke="#222" stroke-width="0.12">10</text>
<rect x="404.4" y="130.70" width="2.6" height="1" fill="#111"/>
<text x="401.90" y="133.50" font-size="6.4" fill="#222" text-anchor="end" stroke="#222" stroke-width="0.12">5</text>
<rect x="404.4" y="172.00" width="2.6" height="1" fill="#111"/>
<text x="401.90" y="174.80" font-size="6.4" fill="#222" text-anchor="end" stroke="#222" stroke-width="0.12">0</text>
<rect x="404.4" y="213.30" width="2.6" height="1" fill="#111"/>
<text x="401.90" y="216.10" font-size="6.4" fill="#222" text-anchor="end" stroke="#222" stroke-width="0.12">-5</text>
<rect x="424.60" y="239" width="1" height="2.8" fill="#111"/>
<rect x="453.00" y="239" width="1" height="2.8" fill="#111"/>
<rect x="480.00" y="239" width="1" height="2.8" fill="#111"/>
<text x="389.20" y="180.90" font-size="8.3" fill="#111" textLength="79.9" lengthAdjust="spacingAndGlyphs" transform="rotate(-90 389.20 180.90)" stroke="#111" stroke-width="0.3">Log2 CPM in the SET2 cell line</text>
<line x1="425.1" y1="57" x2="425.1" y2="126.8" stroke="#888" stroke-width="1.9" stroke-dasharray="1,1"/>
<line x1="425.1" y1="175" x2="425.1" y2="231.7" stroke="#999" stroke-width="1.9" stroke-dasharray="1,1"/>
<rect x="419.3" y="56.00" width="11.60" height="1.2" fill="#444"/>
<rect x="419.3" y="231.10" width="11.60" height="1.2" fill="#888"/>
<circle cx="424.6" cy="50.6" r="0.85" fill="none" stroke="#333" stroke-width="0.75"/>
<circle cx="424.6" cy="53.2" r="0.85" fill="none" stroke="#333" stroke-width="0.75"/>
<line x1="453.6" y1="80" x2="453.6" y2="119.6" stroke="#222" stroke-width="1.1" stroke-dasharray="1,1"/>
<line x1="453.6" y1="158" x2="453.6" y2="215.5" stroke="#222" stroke-width="1.1" stroke-dasharray="1,1"/>
<rect x="448.0" y="79.10" width="11.30" height="1.2" fill="#333"/>
<rect x="448.0" y="214.90" width="11.30" height="1.2" fill="#333"/>
<circle cx="453.6" cy="219.4" r="0.85" fill="none" stroke="#333" stroke-width="0.75"/>
<circle cx="453.6" cy="222.5" r="0.85" fill="none" stroke="#333" stroke-width="0.75"/>
<circle cx="453.6" cy="225.4" r="0.85" fill="none" stroke="#333" stroke-width="0.75"/>
<circle cx="453.6" cy="232.0" r="0.85" fill="none" stroke="#333" stroke-width="0.75"/>
<line x1="480.5" y1="89" x2="480.5" y2="116.4" stroke="#222" stroke-width="1.1" stroke-dasharray="1,1"/>
<line x1="480.5" y1="135" x2="480.5" y2="161.5" stroke="#222" stroke-width="1.1" stroke-dasharray="1,1"/>
<rect x="475.0" y="88.80" width="11.20" height="1.2" fill="#333"/>
<rect x="475.0" y="160.90" width="11.20" height="1.2" fill="#333"/>
<circle cx="480.5" cy="79.7" r="0.85" fill="none" stroke="#333" stroke-width="0.75"/>
<circle cx="480.5" cy="85.1" r="0.85" fill="none" stroke="#333" stroke-width="0.75"/>
<circle cx="480.5" cy="164.4" r="0.85" fill="none" stroke="#333" stroke-width="0.75"/>
<circle cx="480.5" cy="170.2" r="0.85" fill="none" stroke="#333" stroke-width="0.75"/>
<circle cx="480.5" cy="179.3" r="0.85" fill="none" stroke="#333" stroke-width="0.75"/>
<circle cx="480.5" cy="183.2" r="0.85" fill="none" stroke="#333" stroke-width="0.75"/>
<circle cx="480.5" cy="193.2" r="0.85" fill="none" stroke="#333" stroke-width="0.75"/>
<circle cx="480.5" cy="196.6" r="0.85" fill="none" stroke="#333" stroke-width="0.75"/>
<path d="M413.9,126.8 L435.9,126.8 L435.9,142.3 L430.9,143.0 L435.9,143.7 L435.9,174.7 L413.9,174.7 L413.9,143.7 L419.2,143.0 L413.9,142.3 Z" fill="#e8b923"/>
<rect x="419.2" y="142.0" width="11.7" height="2.0" fill="#2a2008"/>
<path d="M442.7,119.6 L464.6,119.6 L464.6,126.5 L459.5,130.5 L464.6,134.5 L464.6,157.9 L442.7,157.9 L442.7,134.5 L447.9,130.5 L442.7,126.5 Z" fill="#8a80c0"/>
<rect x="447.9" y="129.8" width="11.6" height="1.5" fill="#1a1430"/>
<path d="M470.0,116.3 L491.3,116.3 L491.3,121.0 L486.4,124.4 L491.3,127.6 L491.3,135.4 L470.0,135.4 L470.0,127.6 L475.0,124.4 L470.0,121.0 Z" fill="#4f2067" stroke="#3a104e" stroke-width="0.6"/>
<rect x="475.0" y="123.7" width="11.7" height="1.5" fill="#140818"/>
<line x1="433.4" y1="49.9" x2="448.1" y2="49.9" stroke="#333" stroke-width="1.2" stroke-dasharray="1,0.66"/>
<line x1="448.1" y1="50" x2="448.1" y2="66.6" stroke="#222" stroke-width="1.1" stroke-dasharray="1,1"/>
<line x1="448.1" y1="56.5" x2="480.8" y2="56.5" stroke="#333" stroke-width="1.2" stroke-dasharray="1,0.66"/>
<line x1="480.8" y1="56" x2="480.8" y2="67.4" stroke="#222" stroke-width="1.1" stroke-dasharray="1,1"/>
<text x="441.00" y="74.60" font-size="4.6" fill="#222" style="text-rendering:optimizeLegibility" stroke="#222" stroke-width="0.18">*</text>
<text x="443.90" y="76.30" font-size="5.9" fill="#222" textLength="3.4" lengthAdjust="spacingAndGlyphs" >=</text>
<text x="0" y="0" font-size="5.9" fill="#222" style="text-rendering:optimizeLegibility" stroke="#222" stroke-width="0.18" transform="translate(448.7 76.3) scale(0.89 1)">3.8</text>
<text x="0" y="0" font-size="4.8" fill="#222" style="text-rendering:optimizeLegibility" stroke="#222" stroke-width="0.18" transform="translate(456.3 72.6) scale(0.91 1)">e-09</text>
<text x="468.90" y="74.60" font-size="4.6" fill="#222" style="text-rendering:optimizeLegibility" stroke="#222" stroke-width="0.18">*</text>
<text x="471.90" y="76.30" font-size="5.9" fill="#222" textLength="3.4" lengthAdjust="spacingAndGlyphs" >=</text>
<text x="0" y="0" font-size="5.9" fill="#222" style="text-rendering:optimizeLegibility" stroke="#222" stroke-width="0.18" transform="translate(476.5 76.3) scale(0.89 1)">1.1</text>
<text x="0" y="0" font-size="4.8" fill="#222" style="text-rendering:optimizeLegibility" stroke="#222" stroke-width="0.18" transform="translate(483.5 72.6) scale(0.91 1)">e-08</text>
<text x="428.30" y="246.00" font-size="6.5" fill="#111" text-anchor="end" transform="rotate(-45 428.30 246.00)" stroke="#111" stroke-width="0.15">All SET2 Gene</text>
<text x="433.40" y="252.00" font-size="6.5" fill="#111" text-anchor="end" transform="rotate(-45 433.40 252.00)" stroke="#111" stroke-width="0.15">Expression</text>
<text x="456.40" y="246.00" font-size="6.5" fill="#111" text-anchor="end" transform="rotate(-45 456.40 246.00)" stroke="#111" stroke-width="0.15">Our Upregulated</text>
<text x="461.50" y="252.00" font-size="6.5" fill="#111" text-anchor="end" transform="rotate(-45 461.50 252.00)" stroke="#111" stroke-width="0.15">Genes</text>
<text x="483.60" y="246.00" font-size="6.5" fill="#111" text-anchor="end" transform="rotate(-45 483.60 246.00)" stroke="#111" stroke-width="0.15">Our Upregulated Genes</text>
<text x="488.70" y="252.00" font-size="6.5" fill="#111" text-anchor="end" transform="rotate(-45 488.70 252.00)" stroke="#111" stroke-width="0.15">with SET2 H3k27ac</text>
<rect x="0" y="0" width="520" height="1" fill="#000"/>
<rect x="0" y="0" width="1" height="344" fill="#000"/>
<rect x="518.5" y="0" width="1.5" height="344" fill="#000"/>
<rect x="0" y="342.5" width="520" height="1.5" fill="#000"/>
</svg></body></html>
